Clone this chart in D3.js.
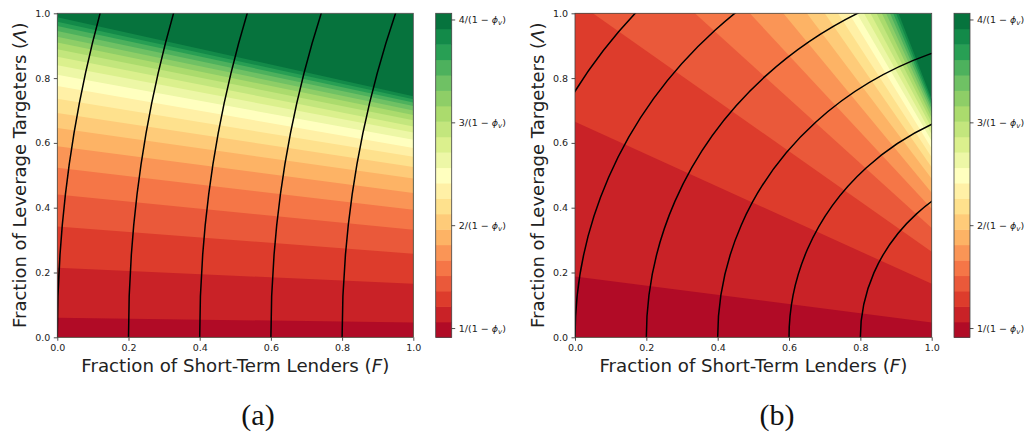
<!DOCTYPE html>
<html lang="en">
<head>
<meta charset="UTF-8">
<title>Leverage targeters vs short-term lenders</title>
<script src="https://d3js.org/d3.v7.min.js"></script>
<style>
  body { margin: 0; background: #fff; }
  svg text { font-family: "DejaVu Sans", sans-serif; fill: #222; }
  svg text.cap { font-family: "Liberation Serif", "DejaVu Serif", serif; fill: #111; }
</style>
</head>
<body>
<div id="chart"></div>
<script>
// colour levels, in units of 1/(1 - phi_v)
var levels = [0.91, 1.06, 1.21, 1.36, 1.51, 1.66, 1.81, 1.96, 2.11, 2.26, 2.41,
              2.56, 2.71, 2.86, 3.01, 3.16, 3.31, 3.46, 3.61, 3.76, 3.91, 4.06];
var cbarTicks = [1, 2, 3, 4];
var axisTicks = [0, 0.2, 0.4, 0.6, 0.8, 1.0];

// panel (a): each band edge, where it meets F = 0 and F = 1
var aLeft  = [0.060, 0.215, 0.342, 0.441, 0.523, 0.590, 0.646, 0.692, 0.736, 0.776,
              0.810, 0.840, 0.866, 0.889, 0.910, 0.928, 0.945, 0.961, 0.974, 0.988];
var aRight = [0.046, 0.165, 0.258, 0.332, 0.394, 0.445, 0.490, 0.526, 0.557, 0.584,
              0.610, 0.632, 0.651, 0.670, 0.686, 0.700, 0.714, 0.725, 0.735, 0.744];
// black lines: circles around (aCenter, 0) through these F values
var aCenter = 4.2;
var aStarts = [0, 0.2, 0.4, 0.6, 0.8];

// panel (b): band edges, start point (left or top side) and end on F = 1
var bStartX = [0, 0, 0.05, 0.336, 0.49, 0.584, 0.65, 0.70, 0.737, 0.768,
               0.79, 0.81, 0.828, 0.845, 0.86, 0.872, 0.883, 0.892, 0.90, 0.907];
var bStartY = [0.188, 0.665, 1, 1, 1, 1, 1, 1, 1, 1,
               1, 1, 1, 1, 1, 1, 1, 1, 1, 1];
var bEndY   = [0.046, 0.165, 0.264, 0.337, 0.397, 0.446, 0.489, 0.525, 0.556, 0.583,
               0.606, 0.627, 0.646, 0.663, 0.678, 0.692, 0.704, 0.715, 0.725, 0.735];
var bCenter = 1.34;
var bStarts = [-0.2, 0, 0.2, 0.4, 0.6, 0.8];

// matplotlib RdYlGn
var rdylgn = d3.scaleLinear()
  .domain(d3.range(11).map(function(i) { return i / 10; }))
  .range(["#a50026", "#d73027", "#f46d43", "#fdae61", "#fee08b", "#ffffbf",
          "#d9ef8b", "#a6d96a", "#66bd63", "#1a9850", "#006837"])
  .interpolate(d3.interpolateRgb);
var nBands = levels.length - 1;
function bandColor(i) { return rdylgn((i + 0.5) / nBands); }

var svg = d3.select("#chart").append("svg")
  .attr("width", 1026).attr("height", 432)
  .attr("font-family", "DejaVu Sans");

// part of the unit square on the origin's side of the line p1-p2
function belowLine(p1, p2) {
  var sq = [[0, 0], [1, 0], [1, 1], [0, 1]];
  var side = function(p) {
    return (p2[0] - p1[0]) * (p[1] - p1[1]) - (p2[1] - p1[1]) * (p[0] - p1[0]);
  };
  var s0 = side([0, 0]);
  var out = [];
  for (var i = 0; i < 4; i++) {
    var a = sq[i], b = sq[(i + 1) % 4];
    var sa = side(a) * s0, sb = side(b) * s0;
    if (sa >= 0) out.push(a);
    if ((sa >= 0) !== (sb >= 0)) {
      var t = sa / (sa - sb);
      out.push([a[0] + t * (b[0] - a[0]), a[1] + t * (b[1] - a[1])]);
    }
  }
  return out;
}

function mathLabel(sel, v) {
  sel.text(null);
  sel.append("tspan").text(v + "/(1 \u2212 ");
  sel.append("tspan").attr("font-style", "italic").text("\u03d5");
  sel.append("tspan").attr("font-style", "italic").attr("font-size", "7px").attr("dy", 2).text("v");
  sel.append("tspan").attr("dy", -2).text(")");
}

function drawPanel(p) {
  var x = d3.scaleLinear().domain([0, 1]).range([p.left, p.right]);
  var y = d3.scaleLinear().domain([0, 1]).range([337.3, 13.3]);
  var g = svg.append("g");

  g.append("clipPath").attr("id", p.id + "clip")
    .append("rect")
    .attr("x", x(0)).attr("y", y(1))
    .attr("width", x(1) - x(0)).attr("height", y(0) - y(1));

  var plot = g.append("g").attr("clip-path", "url(#" + p.id + "clip)");
  plot.append("rect")
    .attr("x", x(0)).attr("y", y(1))
    .attr("width", x(1) - x(0)).attr("height", y(0) - y(1))
    .attr("fill", bandColor(nBands - 1));

  var edges = p.edges.slice().reverse();
  plot.selectAll("polygon.band").data(edges).enter().append("polygon")
    .attr("class", "band")
    .attr("points", function(e) {
      return belowLine(e.p1, e.p2).map(function(q) { return x(q[0]) + "," + y(q[1]); }).join(" ");
    })
    .attr("fill", function(e) { return bandColor(e.k); });

  plot.selectAll("ellipse").data(p.starts).enter().append("ellipse")
    .attr("cx", x(p.center)).attr("cy", y(0))
    .attr("rx", function(s) { return x(p.center) - x(s); })
    .attr("ry", function(s) { return y(0) - y(p.center - s); })
    .attr("fill", "none").attr("stroke", "#000").attr("stroke-width", 1.5);

  // axes
  var xa = g.append("g").attr("transform", "translate(0," + y(0) + ")")
    .call(d3.axisBottom(x).tickValues(axisTicks).tickFormat(d3.format(".1f"))
      .tickSize(3.5).tickPadding(3.5).tickSizeOuter(0));
  var ya = g.append("g").attr("transform", "translate(" + x(0) + ",0)")
    .call(d3.axisLeft(y).tickValues(axisTicks).tickFormat(d3.format(".1f"))
      .tickSize(3.5).tickPadding(3.5).tickSizeOuter(0));
  [xa, ya].forEach(function(a) {
    a.attr("font-family", null);
    a.select(".domain").remove();
    a.selectAll("line").attr("stroke", "#222").attr("stroke-width", 0.8);
    a.selectAll("text").attr("font-size", "9.5px").attr("fill", "#222");
  });
  g.append("rect")
    .attr("x", x(0)).attr("y", y(1))
    .attr("width", x(1) - x(0)).attr("height", y(0) - y(1))
    .attr("fill", "none").attr("stroke", "#444").attr("stroke-width", 0.8);

  var xl = g.append("text")
    .attr("x", (x(0) + x(1)) / 2).attr("y", 372)
    .attr("text-anchor", "middle").attr("font-size", "18.2px");
  xl.append("tspan").text("Fraction of Short-Term Lenders (");
  xl.append("tspan").attr("font-style", "italic").text("F");
  xl.append("tspan").text(")");

  var yl = g.append("text")
    .attr("transform", "translate(" + p.ylabX + "," + (y(0) + y(1)) / 2 + ") rotate(-90)")
    .attr("text-anchor", "middle").attr("font-size", "18px");
  yl.append("tspan").text("Fraction of Leverage Targeters (");
  yl.append("tspan").attr("font-style", "italic").text("\u039b");
  yl.append("tspan").text(")");

  // colour bar
  var cy = d3.scaleLinear().domain([levels[0], levels[nBands]]).range([337.3, 13.3]);
  var cb = g.append("g");
  cb.selectAll("rect").data(d3.range(nBands)).enter().append("rect")
    .attr("x", p.cbar).attr("width", 16)
    .attr("y", function(i) { return cy(levels[i + 1]); })
    .attr("height", function(i) { return cy(levels[i]) - cy(levels[i + 1]) + 0.5; })
    .attr("fill", function(i) { return bandColor(i); });
  cb.append("rect")
    .attr("x", p.cbar).attr("y", cy(levels[nBands])).attr("width", 16)
    .attr("height", cy(levels[0]) - cy(levels[nBands]))
    .attr("fill", "none").attr("stroke", "#444").attr("stroke-width", 0.8);
  var ca = g.append("g").attr("transform", "translate(" + (p.cbar + 16) + ",0)")
    .call(d3.axisRight(cy).tickValues(cbarTicks).tickSize(3.5).tickPadding(3.5).tickSizeOuter(0));
  ca.attr("font-family", null);
  ca.select(".domain").remove();
  ca.selectAll("line").attr("stroke", "#222").attr("stroke-width", 0.8);
  ca.selectAll("text").attr("font-size", "9.5px").attr("fill", "#222")
    .each(function(v) { mathLabel(d3.select(this), v); });

  g.append("text").attr("class", "cap")
    .attr("x", p.capX).attr("y", 425)
    .attr("text-anchor", "middle").attr("font-size", "30px")
    .text(p.cap);
}

drawPanel({
  id: "a", left: 57.3, right: 413.3, cbar: 435.7, ylabX: 26, capX: 258, cap: "(a)",
  center: aCenter, starts: aStarts,
  edges: aLeft.map(function(v, k) { return { k: k, p1: [0, v], p2: [1, aRight[k]] }; })
});
drawPanel({
  id: "b", left: 575, right: 931.7, cbar: 954, ylabX: 544, capX: 777, cap: "(b)",
  center: bCenter, starts: bStarts,
  edges: bStartX.map(function(v, k) { return { k: k, p1: [v, bStartY[k]], p2: [1, bEndY[k]] }; })
});
</script>
</body>
</html>
